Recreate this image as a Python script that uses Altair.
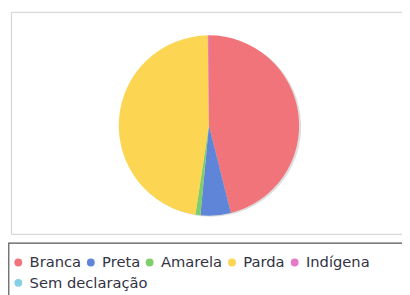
import altair as alt
import pandas as pd

categories = ["Branca", "Preta", "Amarela", "Parda", "Indígena", "Sem declaração"]
values = [46.1, 5.4, 0.9, 47.4, 0.2, 0.0]
colors = ["#f2747b", "#5f85d8", "#7fce6c", "#fcd653", "#e57ac6", "#84d0e4"]

df = pd.DataFrame({"cat": categories, "val": values, "ord": list(range(len(categories)))})

W, H = 402, 287
CX, CY, R = 205, 117, 92

base = alt.Chart(df)

frame = base.mark_rect(fill=None, stroke="#cfcfcf", strokeWidth=1, clip=False).encode(
    x=alt.value(3.5), x2=alt.value(430), y=alt.value(1.5), y2=alt.value(228)
).transform_filter("datum.ord == 0")

legend_box = base.mark_rect(fill=None, stroke="#555555", strokeWidth=1.2, clip=False).encode(
    x=alt.value(0.8), x2=alt.value(430), y=alt.value(237), y2=alt.value(320)
).transform_filter("datum.ord == 0")

shadow = base.mark_arc(outerRadius=R, color="#bbbbbb", opacity=0.5).encode(
    theta=alt.Theta("val:Q", stack=True),
    order=alt.Order("ord:Q"),
    x=alt.value(CX + 2), y=alt.value(CY + 1),
)

common_legend = dict(
    title=None,
    orient="none",
    direction="horizontal",
    symbolType="circle",
    symbolSize=64,
    symbolStrokeWidth=0,
    symbolOpacity=1,
    labelFontSize=15,
    labelFont="DejaVu Sans",
    labelColor="#333344",
    labelOffset=4,
    columnPadding=2,
    padding=0,
    labelLimit=300,
)

pie = base.mark_arc(outerRadius=R).encode(
    theta=alt.Theta("val:Q", stack=True),
    order=alt.Order("ord:Q"),
    color=alt.Color(
        "cat:N",
        sort=categories,
        scale=alt.Scale(domain=categories, range=colors),
        legend=alt.Legend(values=categories[:5], legendX=3, legendY=249, **common_legend),
    ),
    x=alt.value(CX), y=alt.value(CY),
)

extra = base.mark_point(opacity=0, filled=True).encode(
    fill=alt.Fill(
        "cat:N",
        scale=alt.Scale(domain=categories[5:], range=colors[5:]),
        legend=alt.Legend(legendX=3, legendY=270, **common_legend),
    ),
    x=alt.value(CX), y=alt.value(CY),
).transform_filter("datum.ord == 5")

chart = alt.layer(frame, legend_box, shadow, pie, extra).resolve_scale(
    color="independent", fill="independent"
).properties(
    width=W, height=H, padding=0, autosize=alt.AutoSizeParams(type="none"),
    background="white",
).configure_view(stroke=None)

chart.save("out.html", embed_options={"renderer": "svg", "actions": False})
